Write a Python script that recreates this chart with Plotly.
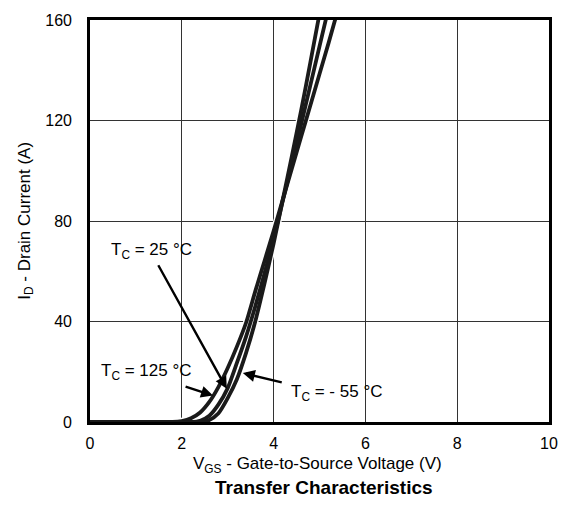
import plotly.graph_objects as go

# ---- data ----
vgs_125 = [0, 0.5, 1.0, 1.5, 1.8, 2.0, 2.2, 2.4, 2.6, 2.8, 3.0, 3.2, 3.4, 3.6, 3.8, 4.0, 4.2, 4.4, 4.6, 4.8, 5.0, 5.2, 5.4]
id_125 = [0, 0, 0, 0, 0, 0.4, 1.5, 3.8, 8, 14, 21.5, 30, 39.5, 52, 64, 76, 88.5, 101, 113.5, 126, 138.5, 151, 164]

vgs_25 = [0, 0.5, 1.0, 1.5, 2.0, 2.2, 2.4, 2.6, 2.8, 3.0, 3.2, 3.4, 3.6, 3.8, 4.0, 4.2, 4.4, 4.6, 4.8, 5.0, 5.2]
id_25 = [0, 0, 0, 0, 0, 0, 0.5, 2.5, 7, 13.5, 23.5, 34, 46, 59, 73, 88, 103, 118.5, 134, 149.5, 165]

vgs_m55 = [0, 0.5, 1.0, 1.5, 2.0, 2.4, 2.6, 2.8, 3.0, 3.2, 3.4, 3.6, 3.8, 4.0, 4.2, 4.4, 4.6, 4.8, 5.0]
id_m55 = [0, 0, 0, 0, 0, 0, 0.8, 3.5, 9.5, 17, 27.5, 40, 55, 71, 88.5, 106, 124, 143, 162.5]

x_ticks = [0, 2, 4, 6, 8, 10]
y_ticks = [0, 40, 80, 120, 160]

label_texts = ["T<sub>C</sub> = 25 °C", "T<sub>C</sub> = 125 °C", "T<sub>C</sub> = - 55 °C"]

FONT = "Liberation Sans, Arial, Helvetica, sans-serif"

fig = go.Figure()

curves = [(vgs_125, id_125), (vgs_25, id_25), (vgs_m55, id_m55)]
for xs, ys in curves:
    fig.add_trace(go.Scatter(x=xs, y=ys, mode="lines",
                             line=dict(color="white", width=6.5, shape="spline", smoothing=0.6),
                             hoverinfo="skip", showlegend=False))
for xs, ys in curves:
    fig.add_trace(go.Scatter(x=xs, y=ys, mode="lines",
                             line=dict(color="#1a1a1a", width=3.8, shape="spline", smoothing=0.6),
                             showlegend=False))

# labels with arrows
label_pos = [
    dict(tx=1.33, ty=68.0, ax=1.47, ay=63.0, hx=2.98, hy=13.2),
    dict(tx=1.24, ty=19.8, ax=2.05, ay=14.3, hx=2.68, hy=10.5),
    dict(tx=5.36, ty=11.5, ax=4.21, ay=15.6, hx=3.33, hy=19.5),
]
for txt, lb in zip(label_texts, label_pos):
    fig.add_annotation(x=lb["tx"], y=lb["ty"], xref="x", yref="y", text=txt, showarrow=False,
                       font=dict(family=FONT, size=17, color="black"))
    fig.add_annotation(x=lb["hx"], y=lb["hy"], ax=lb["ax"], ay=lb["ay"], xref="x", yref="y",
                       axref="x", ayref="y", text="", showarrow=True, arrowhead=2, arrowsize=1.0,
                       arrowwidth=2.4, arrowcolor="black", standoff=0)

# axis titles and chart title
fig.add_annotation(x=0.496, y=-0.106, xref="paper", yref="paper", showarrow=False,
                   text="V<sub>GS</sub> - Gate-to-Source Voltage (V)",
                   font=dict(family=FONT, size=17, color="black"), yanchor="middle")
fig.add_annotation(x=0.51, y=-0.163, xref="paper", yref="paper", showarrow=False,
                   text="<b>Transfer Characteristics</b>",
                   font=dict(family=FONT, size=19, color="black"), yanchor="middle")
fig.add_annotation(x=-0.14, y=0.5, xref="paper", yref="paper", showarrow=False, textangle=-90,
                   text="I<sub>D</sub> - Drain Current (A)",
                   font=dict(family=FONT, size=17, color="black"), xanchor="center", yanchor="middle")

fig.update_xaxes(range=[0, 10], tickvals=x_ticks, ticktext=[str(v) for v in x_ticks],
                 showgrid=True, gridcolor="#333333", gridwidth=1.3, zeroline=False,
                 showline=True, linecolor="black", linewidth=2.6, mirror=True,
                 ticks="", ticklabelstandoff=5,
                 tickfont=dict(family=FONT, size=16, color="black"))
fig.update_yaxes(range=[0, 160], tickvals=y_ticks, ticktext=[str(v) for v in y_ticks],
                 showgrid=True, gridcolor="#333333", gridwidth=1.3, zeroline=False,
                 showline=True, linecolor="black", linewidth=2.6, mirror=True,
                 ticks="", ticklabelstandoff=12,
                 tickfont=dict(family=FONT, size=16, color="black"))

fig.update_layout(width=570, height=525, margin=dict(l=90, r=17, t=18, b=103),
                  paper_bgcolor="white", plot_bgcolor="white", showlegend=False,
                  font=dict(family=FONT))

fig.write_html("out.html")
